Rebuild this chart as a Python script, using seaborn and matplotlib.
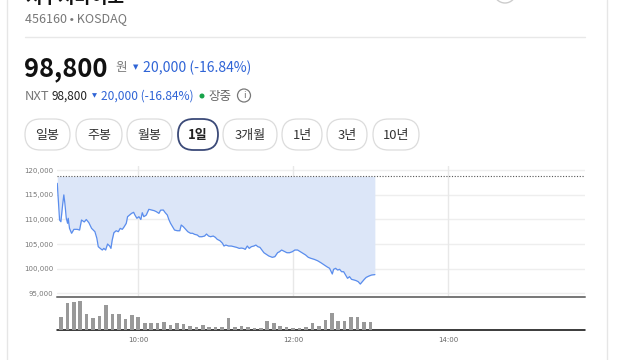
import numpy as np
import pandas as pd
import matplotlib
matplotlib.use("Agg")
import matplotlib.pyplot as plt
from matplotlib.patches import FancyBboxPatch, Circle
import seaborn as sns

# ---------------- data ----------------
company = "지투지바이오"
code_market = "456160 • KOSDAQ"
price_now = "98,800"
change_txt = "20,000 (-16.84%)"
prev_close = 118800

# minutes after 09:00 and price
price_minutes = [-2.8, -1, 0, 1.5, 2.3, 3.1, 4.2, 5.2, 5.7, 6.7, 8.3, 10.1, 12.7, 14.5, 16,
                 18.1, 19.7, 21.7, 23.8, 26.4, 27.9, 29, 30.5, 32.1, 33.3, 34.7, 36.2, 37.8,
                 38.8, 39.8, 41.1, 42.9, 44.5, 46, 47.6, 49.1, 50.7, 51.7, 53.3, 54.8, 56.4,
                 57.4, 58.9, 60.5, 62, 63.1, 64.3, 66.2, 68.2, 70.3, 72.4, 74, 76, 77.3,
                 79.4, 80.9, 82.5, 83.7, 85, 86.6, 88.1, 90.2, 92.2, 93.3, 94.9, 96.7, 98.4,
                 100.5, 102.1, 103.6, 105.7, 107.3, 109.3, 111.4, 112.9, 114.5, 116, 118.1,
                 119.7, 121.2, 123.3, 125.3, 126.4, 127.9, 130, 132.1, 134.1, 136.2, 138.3,
                 139.8, 141.4, 142.9, 144.5, 146, 147.6, 149.6, 151.2, 152.7, 154.3, 155.8,
                 157.4, 158.9, 161.2, 163.9, 165.9, 168, 169.5, 171.1, 173.2, 175.2, 177.3,
                 179.4, 181.4, 183.5, 185.6, 187.6, 189.7, 191.8, 193.8, 196.4, 199, 201.6,
                 204.2, 206.2, 208.3, 210.4, 211.4, 213, 214.5, 216.1, 217.6, 219.2, 220.7,
                 222.2, 223.8, 225.3, 227.4, 229, 230.5, 232.1, 233.6, 235.2, 236.7, 238.8,
                 240.9, 243.4]
price_values = [117350, 109900, 109550, 113300, 115000, 113300, 110250, 109230, 110250, 108200,
                107200, 108000, 108000, 107860, 109900, 109500, 110000, 109350, 108200, 107520,
                106170, 104470, 104130, 103800, 104130, 103800, 105020, 104610, 104130, 105830,
                107320, 107720, 107520, 108200, 108000, 108540, 109230, 110570, 110910, 111250,
                111460, 110910, 110250, 110570, 110000, 111380, 110570, 110910, 112070, 111930,
                111790, 111590, 111250, 111900, 111930, 111380, 110910, 110000, 109230, 108540,
                107860, 107720, 107720, 108880, 108540, 108000, 107520, 107200, 107200, 106990,
                106850, 106500, 106500, 106640, 107050, 106640, 106500, 106640, 106380, 105970,
                105690, 105160, 104610, 104810, 104610, 104610, 104470, 104340, 104130, 104200,
                104130, 103930, 104610, 104130, 104470, 104610, 104810, 104470, 104340, 103800,
                103250, 102990, 102580, 102310, 102450, 103250, 103460, 103800, 103530, 103250,
                103250, 103460, 103800, 103800, 103460, 103120, 102790, 102310, 102110, 101900,
                101620, 101210, 100750, 100400, 100080, 98920, 99870, 100080, 99730, 99870,
                99390, 99390, 98720, 98050, 98380, 97840, 97700, 97560, 97360, 96880, 97360,
                97840, 98240, 98510, 98720, 98800]

# 5-minute volume bars starting 09:00
volume_values = [13300, 26700, 28000, 29000, 15700, 11700, 13700, 24700, 16300, 16300,
                 11300, 14700, 13300, 6700, 7300, 6700, 7700, 5300, 6700, 6300, 3700, 3300,
                 5000, 2700, 2700, 3300, 11700, 3300, 4300, 3000, 1700, 1700, 8700, 6700,
                 3700, 2700, 1700, 2000, 2700, 6700, 3700, 10000, 17000, 9000, 9000, 13300,
                 12700, 7700, 7700]
volume_minutes = [5 * i for i in range(len(volume_values))]

y_ticks = [95000, 100000, 105000, 110000, 115000, 120000]
x_ticks = [60, 180, 300]
x_tick_labels = ["10:00", "12:00", "14:00"]
buttons = ["일봉", "주봉", "월봉", "1일", "3개월", "1년", "3년", "10년"]

# ---------------- figure ----------------
sns.set_theme(style="white")
plt.rcParams["font.family"] = ["Noto Sans CJK KR", "DejaVu Sans"]

W, H = 640, 360
fig = plt.figure(figsize=(6.4, 3.6), dpi=100)
fig.patch.set_facecolor("white")

def fbox(x0, y0, x1, y1):
    return [x0 / W, 1 - y1 / H, (x1 - x0) / W, (y1 - y0) / H]

# background / header axes in pixel coordinates
bg = fig.add_axes([0, 0, 1, 1])
bg.set_xlim(0, W)
bg.set_ylim(H, 0)
bg.axis("off")

px = 0.72  # points per pixel
blue = "#2f64d6"

bg.plot([6.5, 6.5], [0, 360], color="#e6e6e6", lw=1)
bg.plot([606.5, 606.5], [0, 360], color="#e6e6e6", lw=1)
bg.add_patch(Circle((505, -8), 11, fill=False, ec="#cccccc", lw=1))

bg.text(25, 3, company, fontsize=18 * px, fontweight="bold", color="#111", va="baseline")
bg.text(25, 22, code_market, fontsize=12.5 * px, color="#777", va="baseline")
bg.plot([25, 585], [36.5, 36.5], color="#e8e8e8", lw=1)

bg.text(24, 76, price_now, fontsize=25.5 * px, fontweight="bold", color="#111", va="baseline")
bg.text(115, 71, "원", fontsize=12.5 * px, color="#777", va="baseline")
bg.text(133, 69, "▼", fontsize=7 * px, color=blue, va="baseline", family="DejaVu Sans")
bg.text(143, 72, change_txt, fontsize=14 * px, color=blue, va="baseline")

bg.text(25, 100, "NXT", fontsize=13 * px, color="#777", va="baseline")
bg.text(52, 100, price_now, fontsize=11.8 * px, color="#222", va="baseline")
bg.text(92, 97.5, "▼", fontsize=6.5 * px, color=blue, va="baseline", family="DejaVu Sans")
bg.text(101, 100, change_txt, fontsize=12 * px, color=blue, va="baseline")
bg.add_patch(Circle((202, 96), 1.8, color="#17a34a"))
bg.text(208, 100, "장중", fontsize=12.5 * px, color="#666", va="baseline")
bg.add_patch(Circle((244, 95.5), 6.5, fill=False, ec="#777", lw=0.9))
bg.text(244, 96, "i", fontsize=9.5 * px, color="#777", ha="center", va="center", family="DejaVu Sans")

btn_x = [(25, 70), (76, 122), (127, 172), (178, 218), (223, 277), (282, 322), (327, 367), (373, 419)]
by0, by1 = 119, 150
for label, (x0, x1) in zip(buttons, btn_x):
    sel = label == "1일"
    r = (by1 - by0) / 2
    bg.add_patch(FancyBboxPatch((x0, by0), x1 - x0, by1 - by0,
                                boxstyle=f"round,pad=0,rounding_size={r}",
                                fc="white", ec="#3b4a78" if sel else "#dcdcdc",
                                lw=1.3 if sel else 0.9))
    bg.text((x0 + x1) / 2, (by0 + by1) / 2 + 0.5, label, fontsize=13 * px,
            fontweight="bold" if sel else "normal", color="#222" if sel else "#333",
            ha="center", va="center")

# ---------------- price chart ----------------
xmin, xmax = -3.0, -3.0 + (585 - 57) / 1.29
top_y, bot_y = 166, 296
k = 5000 / 24.6  # price per pixel
ylim = (120000 - (bot_y - 170.3) * k, 120000 + (170.3 - top_y) * k)

ax = fig.add_axes(fbox(57, top_y, 585, bot_y))
ax.set_xlim(xmin, xmax)
ax.set_ylim(*ylim)
for s in ax.spines.values():
    s.set_visible(False)
for yv in y_ticks:
    ax.axhline(yv, color="#eeeeee", lw=1, zorder=0)
for xv in x_ticks:
    ax.axvline(xv, color="#e8e8e8", lw=1, zorder=0)

df = pd.DataFrame({"minute": price_minutes, "price": price_values})
ax.fill_between(df["minute"], df["price"], prev_close, color="#dce6f8", lw=0, zorder=1)
sns.lineplot(data=df, x="minute", y="price", ax=ax, color="#5a8ded", lw=0.9, zorder=3)
ax.axhline(prev_close, color="#555", lw=0.8, ls=(0, (1, 1.5)), zorder=4)

ax.set_yticks(y_ticks)
ax.set_yticklabels([f"{v:,}" for v in y_ticks], family="DejaVu Sans")
ax.tick_params(axis="y", length=0, pad=2.5, labelsize=7 * px, labelcolor="#777")
ax.set_xticks([])
ax.set_xlabel("")
ax.set_ylabel("")
ax.grid(False)
ax.set_facecolor("none")

# ---------------- volume chart ----------------
vax = fig.add_axes(fbox(57, 297, 585, 330))
vdf = pd.DataFrame({"minute": volume_minutes, "volume": volume_values})
sns.barplot(data=vdf, x="minute", y="volume", ax=vax, native_scale=True,
            color="#999999", width=0.56, saturation=1, edgecolor="none")
vax.set_xlim(xmin, xmax)
vax.set_ylim(0, max(volume_values) * 33 / 29.3)
for s in vax.spines.values():
    s.set_visible(False)
vax.set_facecolor("none")
vax.set_yticks([])
vax.set_xticks(x_ticks)
vax.set_xticklabels(x_tick_labels, family="DejaVu Sans")
vax.tick_params(axis="x", length=3, width=0.7, color="#888", pad=2,
                labelsize=7 * px, labelcolor="#666")
vax.set_xlabel("")
vax.set_ylabel("")

bg.plot([57, 585], [296.8, 296.8], color="#7a7a7a", lw=2 * px)
bg.plot([57, 585], [330, 330], color="#111", lw=1.6 * px)

fig.savefig("out.png", dpi=100, facecolor="white")
